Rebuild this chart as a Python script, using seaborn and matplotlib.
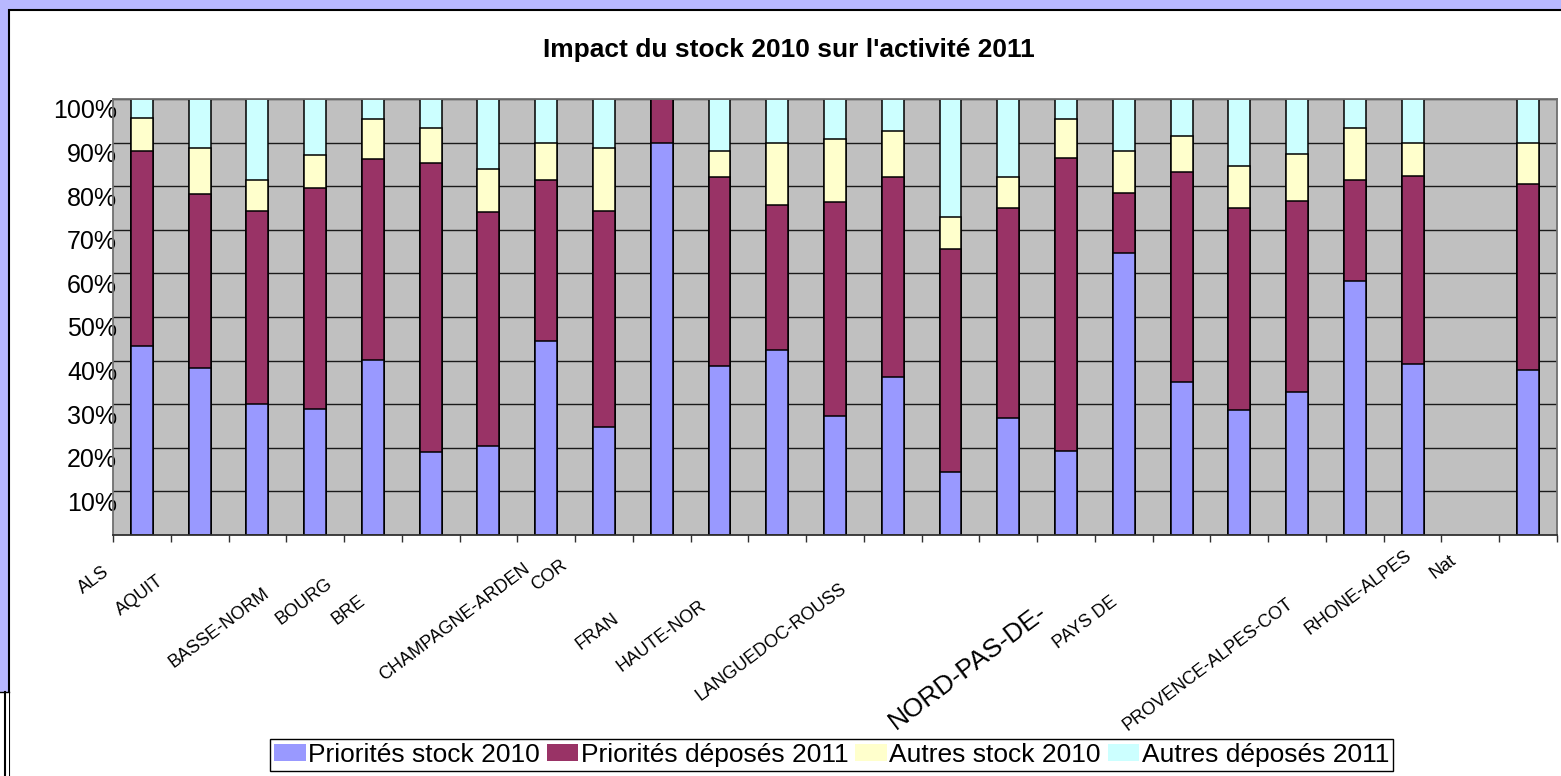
import numpy as np
import pandas as pd
import seaborn as sns
import matplotlib.pyplot as plt
from matplotlib.patches import Patch, Rectangle
from matplotlib.lines import Line2D
from matplotlib.transforms import ScaledTranslation

plt.rcParams['font.family'] = ['Liberation Sans', 'DejaVu Sans']

# Data (percent shares, slot 23 is empty)
slots = list(range(25))
tick_labels = ['ALS', 'AQUIT', 'BASSE-NORM', 'BOURG', 'BRE', '', 'CHAMPAGNE-ARDEN',
               'COR', 'FRAN', '', 'HAUTE-NOR', '', 'LANGUEDOC-ROUSS', '', '', '',
               'NORD-PAS-DE-', 'PAYS DE', '', '', 'PROVENCE-ALPES-COT', '',
               'RHONE-ALPES', 'Nat', '']
prio_stock = [43.4, 38.2, 30.0, 29.0, 40.1, 19.1, 20.3, 44.6, 24.8, 89.8, 38.8, 42.4, 27.3,
              36.2, 14.5, 26.8, 19.3, 64.7, 35.2, 28.7, 32.9, 58.3, 39.2, np.nan, 37.8]
prio_dep = [44.7, 39.9, 44.3, 50.7, 46.1, 66.2, 53.7, 36.8, 49.5, 10.2, 43.2, 33.3, 49.1,
            46.0, 51.0, 48.1, 67.1, 13.8, 48.1, 46.2, 43.7, 23.1, 43.1, np.nan, 42.6]
autres_stock = [7.5, 10.7, 7.1, 7.5, 9.1, 8.0, 9.9, 8.6, 14.5, 0.0, 6.1, 14.3, 14.4,
                10.5, 7.5, 7.1, 8.9, 9.6, 8.2, 9.8, 10.8, 11.9, 7.7, np.nan, 9.6]
autres_dep = [4.4, 11.2, 18.6, 12.8, 4.7, 6.7, 16.1, 10.0, 11.2, 0.0, 11.9, 10.0, 9.2,
              7.3, 27.0, 18.0, 4.7, 11.9, 8.5, 15.3, 12.6, 6.7, 10.0, np.nan, 10.0]
series = ['Priorités stock 2010', 'Priorités déposés 2011', 'Autres stock 2010', 'Autres déposés 2011']
colors = ['#9999FF', '#993366', '#FFFFCC', '#CCFFFF']

df = pd.DataFrame({'slot': slots, series[0]: prio_stock, series[1]: prio_dep,
                   series[2]: autres_stock, series[3]: autres_dep})
total = df[series].sum(axis=1, min_count=1)
cum = df[series].cumsum(axis=1).div(total, axis=0) * 100
cum['slot'] = df['slot']

W, H = 1561, 776
fig = plt.figure(figsize=(W / 100, H / 100), dpi=100, facecolor='#B8B8FF')

# white card + frame artefacts
fig.patches.append(Rectangle((9 / W, -0.02), 1.1, 1 - 10 / H + 0.02, transform=fig.transFigure,
                             facecolor='white', edgecolor='black', lw=1.5, zorder=-5))
fig.patches.append(Rectangle((0, -0.01), 9 / W, (H - 692) / H + 0.01, transform=fig.transFigure,
                             facecolor='white', edgecolor='none', zorder=-4))
fig.lines.append(Line2D([5 / W, 5 / W], [0, (H - 692) / H], transform=fig.transFigure,
                        color='black', lw=1.5))
fig.lines.append(Line2D([0, 9 / W], [(H - 692) / H] * 2, transform=fig.transFigure,
                        color='black', lw=1))

ax = fig.add_axes([113 / W, (H - 535) / H, (1557 - 113) / W, (535 - 99) / H])
ax.set_facecolor('#C0C0C0')

# stacked by overdrawing cumulative bars, tallest first
for name, col in reversed(list(zip(series, colors))):
    sns.barplot(data=cum, x='slot', y=name, order=slots, color=col, saturation=1,
                width=0.38, edgecolor='black', linewidth=1.1, errorbar=None, ax=ax)

ax.set_xlim(-0.5, 24.5)
ax.set_ylim(0, 100)
ax.set_xlabel('')
ax.set_ylabel('')
ax.set_axisbelow(True)
ax.yaxis.grid(True, color='#1a1a1a', lw=1)
for s in ax.spines.values():
    s.set_color('#707070')
    s.set_linewidth(1.3)
ax.spines['bottom'].set_color('#303030')

yt = list(range(10, 101, 10))
ax.set_yticks(yt)
ax.set_yticklabels([f'{v}%' for v in yt], fontsize=18)
ax.tick_params(axis='y', length=0, pad=-3)
for lab in ax.get_yticklabels():
    lab.set_transform(lab.get_transform() + ScaledTranslation(0, -0.10, fig.dpi_scale_trans))

ax.set_xticks(slots)
ax.set_xticks(np.arange(-0.5, 25, 1), minor=True)
ax.set_xticklabels(tick_labels, rotation=37, ha='right', va='top', rotation_mode='anchor', fontsize=13)
ax.tick_params(axis='x', which='major', length=0, pad=10)
ax.tick_params(axis='x', which='minor', length=5, width=1, color='#303030', direction='out')

# label end offsets (px) to follow the original placement
offs = {0: (-40, 14), 1: (-43, 24), 2: (5, 36), 3: (10, 26), 4: (-15, 43), 6: (35, 11),
        7: (14, 8), 8: (8, 61), 10: (-20, 48), 12: (5, 31), 16: (-29, 51), 17: (-14, 44),
        20: (-11, 46), 22: (-8, -2), 23: (-21, 3)}
for i, lab in enumerate(ax.get_xticklabels()):
    dx, dy = offs.get(i, (0, 0))
    lab.set_transform(lab.get_transform() + ScaledTranslation(dx / 100, -dy / 100, fig.dpi_scale_trans))
    if i == 16:
        lab.set_fontsize(19)

fig.text(789 / W, 1 - 57 / H, "Impact du stock 2010 sur l'activité 2011",
         ha='center', va='baseline', fontsize=19, fontweight='bold')

handles = [Patch(facecolor=c, edgecolor='none') for c in colors]
leg = fig.legend(handles, series, loc='upper left', bbox_to_anchor=(270 / W, 1 - 739 / H),
                 bbox_transform=fig.transFigure, ncol=4, fontsize=19, frameon=True,
                 fancybox=False, framealpha=1, edgecolor='black', borderpad=0.15,
                 handlelength=1.2, handleheight=0.6, handletextpad=0.1, columnspacing=0.25,
                 borderaxespad=0)
leg.get_frame().set_linewidth(1.0)

fig.savefig('out.png', dpi=100, facecolor=fig.get_facecolor())
